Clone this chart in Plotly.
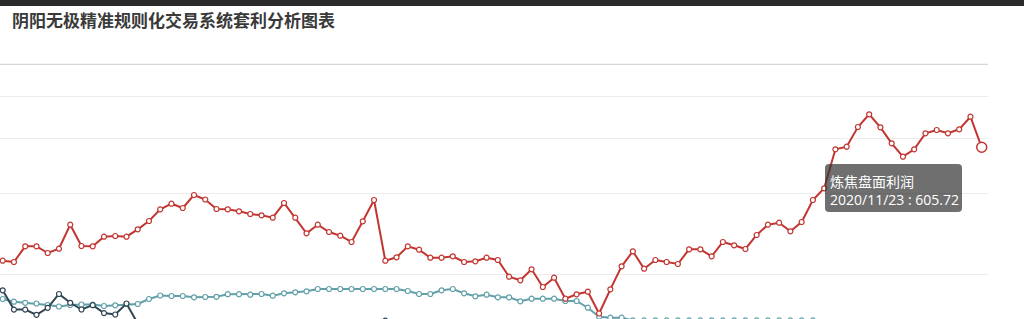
import pandas as pd
import plotly.graph_objects as go

# Trading-day categories (China futures, National Day holiday closed)
dates = [d.strftime("%Y/%m/%d") for d in pd.bdate_range("2020-07-14", "2020-11-23")
         if not (d.month == 10 and d.day <= 8)]

# 炼焦盘面利润 (red)
profit = [210.0,
          208.8, 204.3, 259.2, 259.2, 235.8, 250.8, 334.8, 260.3, 259.2, 292.8,
          295.3, 292.8, 318.7, 347.8, 388.7, 408.3, 393.3, 438.8, 423.0, 389.8,
          388.7, 381.7, 372.3, 367.7, 359.3, 410.8, 359.3, 304.7, 334.8, 309.3,
          296.3, 274.3, 346.7, 421.3, 208.8, 220.7, 259.2, 247.3, 219.3, 219.3,
          224.2, 204.3, 206.7, 219.3, 211.3, 152.8, 140.2, 178.7, 116.8, 149.3,
          75.8, 91.2, 100.3, 24.0, 108.7, 189.2, 241.7, 180.8, 211.3, 204.3,
          197.3, 248.7, 248.7, 224.2, 274.3, 262.7, 249.8, 298.8, 334.8, 341.8,
          311.7, 344.3, 421.3, 462.2, 598.7, 607.8, 676.8, 721.2, 675.7, 619.7,
          572.8, 598.7, 654.7, 666.3, 654.7, 668.7, 712.8, 605.72]

# dark series
series_dark = [120.0,
               105.2, 37.7, 37.7, 19.5, 44.0, 92.3, 61.5, 38.0, 53.1, 25.4,
               20.5, 59.0, -11.0, -38, -52, -45, -60, -68, -57, -63,
               -74, -66, -58, -70, -79, -62, -54, -48, -42, -36,
               -29, -24, -18, -15, -1.0, -19, -33, -28, -41, -49, -44]

# teal series
series_teal = [76.0,
               74.8, 65.3, 61.5, 59.0, 53.8, 48.5, 53.8, 55.5, 55.5, 50.3,
               52.7, 57.3, 57.3, 74.8, 87.0, 85.3, 85.3, 80.7, 81.8, 82.5,
               91.6, 91.6, 89.8, 92.3, 86.3, 94.7, 98.2, 101.7, 109.8, 109.8,
               109.8, 109.8, 109.8, 109.8, 109.8, 109.8, 102.8, 92.3, 92.3, 105.2,
               109.8, 94.7, 84.2, 89.8, 80.7, 80.7, 66.7, 75.8, 75.8, 75.8,
               67.8, 67.8, 44.3, 12.8, 9.3, 9.3, 0, 0, 0, 0,
               0, 0, 0, 0, 0, 0, 0, 0, 0, 0,
               0, 0, 0]

grid_vals = [782.8, 637.2, 444.7, 158.8]
top_line_val = 896.2
y_range = [4.77, 1121.27]
x_range = [0.76, 88.56]

RED, DARK, TEAL = "#c23531", "#2f4554", "#61a0a8"
W, H, PLOT_W = 1024, 319, 988

def line_trace(name, ys, color):
    return go.Scatter(
        x=dates[:len(ys)], y=ys, name=name, mode="lines+markers",
        line=dict(color=color, width=2),
        marker=dict(symbol="circle", size=5, color="white",
                    line=dict(color=color, width=1.2)),
        cliponaxis=True,
    )

fig = go.Figure()
fig.add_trace(line_trace("价差", series_teal, TEAL))
fig.add_trace(line_trace("利润2", series_dark, DARK))
fig.add_trace(line_trace("炼焦盘面利润", profit, RED))
fig.add_trace(go.Scatter(
    x=[dates[-1]], y=[profit[-1]], mode="markers", showlegend=False,
    marker=dict(symbol="circle", size=10, color="white", line=dict(color=RED, width=1.5)),
    hoverinfo="skip", cliponaxis=True))

def px_x(p):
    return p / PLOT_W

def px_y(p):
    return 1 - p / H

shapes = [
    # top dark bar
    dict(type="rect", xref="paper", yref="paper", x0=0, x1=W / PLOT_W,
         y0=px_y(6), y1=1.02, fillcolor="#2b2b2b", line=dict(width=0), layer="above"),
    # top gray rule
    dict(type="line", xref="paper", yref="y", x0=0, x1=1, y0=top_line_val, y1=top_line_val,
         line=dict(color="#cccccc", width=1), layer="below"),
]
# tooltip rounded box
x0, x1, y0, y1, r = 825, 962, 164, 212, 4
path = (f"M {px_x(x0 + r)},{px_y(y0)} L {px_x(x1 - r)},{px_y(y0)} "
        f"Q {px_x(x1)},{px_y(y0)} {px_x(x1)},{px_y(y0 + r)} "
        f"L {px_x(x1)},{px_y(y1 - r)} Q {px_x(x1)},{px_y(y1)} {px_x(x1 - r)},{px_y(y1)} "
        f"L {px_x(x0 + r)},{px_y(y1)} Q {px_x(x0)},{px_y(y1)} {px_x(x0)},{px_y(y1 - r)} "
        f"L {px_x(x0)},{px_y(y0 + r)} Q {px_x(x0)},{px_y(y0)} {px_x(x0 + r)},{px_y(y0)} Z")
shapes.append(dict(type="path", xref="paper", yref="paper", path=path,
                   fillcolor="rgba(50,50,50,0.7)", line=dict(width=0), layer="above"))

annotations = [
    dict(text="<b>阴阳无极精准规则化交易系统套利分析图表</b>", xref="paper", yref="paper",
         x=px_x(10), y=px_y(20), xanchor="left", yanchor="middle", showarrow=False,
         font=dict(family="Noto Sans CJK SC, Open Sans, sans-serif", size=17, color="#3a3a3a")),
    dict(text=f"炼焦盘面利润<br>{dates[-1]} : {profit[-1]:.2f}", xref="paper", yref="paper",
         x=px_x(829), y=px_y(190.5), xanchor="left", yanchor="middle", align="left",
         showarrow=False, borderpad=0,
         font=dict(family="Open Sans, Noto Sans CJK SC, sans-serif", size=14, color="white")),
]

fig.update_layout(
    width=W, height=H, margin=dict(l=0, r=W - PLOT_W, t=0, b=0, pad=0),
    paper_bgcolor="white", plot_bgcolor="white", showlegend=False,
    shapes=shapes, annotations=annotations,
    xaxis=dict(type="category", range=x_range, showgrid=False, showticklabels=False,
               showline=False, zeroline=False, ticks=""),
    yaxis=dict(range=y_range, tickvals=grid_vals, showticklabels=False, ticks="",
               gridcolor="#ececec", gridwidth=1, zeroline=False, showline=False),
)
fig.write_html("out.html")
